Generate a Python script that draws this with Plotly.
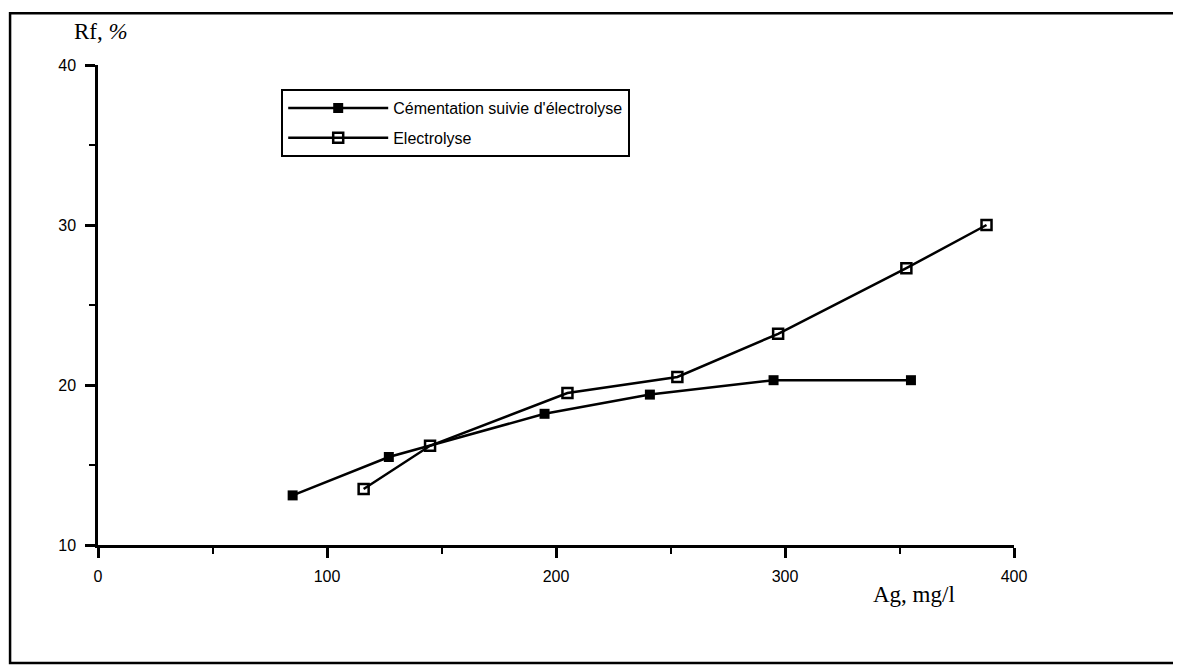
import plotly.graph_objects as go

# Cémentation suivie d'électrolyse
ag_cem = [85, 127, 195, 241, 295, 355]
rf_cem = [13.1, 15.5, 18.2, 19.4, 20.3, 20.3]

# Electrolyse seule
ag_elec = [116, 145, 205, 253, 297, 353, 388]
rf_elec = [13.5, 16.2, 19.5, 20.5, 23.2, 27.3, 30.0]

x_ticks = [0, 100, 200, 300, 400]
y_ticks = [10, 20, 30, 40]

fig = go.Figure()

fig.add_trace(go.Scatter(
    x=ag_cem, y=rf_cem, mode='lines+markers',
    name="Cémentation suivie d'électrolyse",
    line=dict(color='black', width=2.5),
    marker=dict(symbol='square', size=10, color='black'),
    legendgroup='a',
))
fig.add_trace(go.Scatter(
    x=ag_elec, y=rf_elec, mode='lines+markers',
    name='Electrolyse',
    line=dict(color='black', width=2.5),
    marker=dict(symbol='square-open', size=10, color='black', line=dict(width=2.5)),
    legendgroup='b',
))

axis_common = dict(
    showline=True, linecolor='black', linewidth=2.5,
    ticks='outside', ticklen=10, tickwidth=2.5, tickcolor='black',
    showgrid=False, zeroline=False,
    tickfont=dict(family='Liberation Sans, Arial', size=16, color='black'),
)

fig.update_xaxes(
    range=[0, 400], tickvals=x_ticks,
    minor=dict(ticks='outside', ticklen=6, tickwidth=2, tickcolor='black', dtick=50, tick0=0),
    ticklabelstandoff=5,
    **axis_common,
)
fig.update_yaxes(
    range=[10, 40], tickvals=y_ticks,
    minor=dict(ticks='outside', ticklen=6, tickwidth=2, tickcolor='black', dtick=5, tick0=0),
    ticklabelstandoff=6,
    **axis_common,
)

# titres des axes
fig.add_annotation(text='Rf, <i>%</i>', xref='paper', yref='paper', x=0.003, y=1.069,
                   xanchor='center', yanchor='middle', showarrow=False,
                   font=dict(family='Liberation Serif, Times New Roman', size=23, color='black'))
fig.add_annotation(text='Ag, mg/l', xref='paper', yref='paper', x=0.891, y=-0.104,
                   xanchor='center', yanchor='middle', showarrow=False,
                   font=dict(family='Liberation Serif, Times New Roman', size=23, color='black'))

# cadre extérieur
fig.add_shape(type='rect', xref='paper', yref='paper',
              x0=-0.096, x1=1.178, y0=-0.246, y1=1.108,
              line=dict(color='black', width=2.5))

# la page a une marge de 8 px : figure réduite d'autant
fig.update_layout(
    width=1173, height=658,
    margin=dict(l=90, r=167, t=57, b=121),
    plot_bgcolor='white', paper_bgcolor='white',
    showlegend=True,
    legend=dict(
        x=0.2, y=0.95, xanchor='left', yanchor='top',
        bordercolor='black', borderwidth=2, bgcolor='white',
        font=dict(family='Liberation Sans, Arial', size=16, color='black'),
        itemwidth=100, traceorder='grouped', tracegroupgap=6,
    ),
)

fig.write_html('out.html')
